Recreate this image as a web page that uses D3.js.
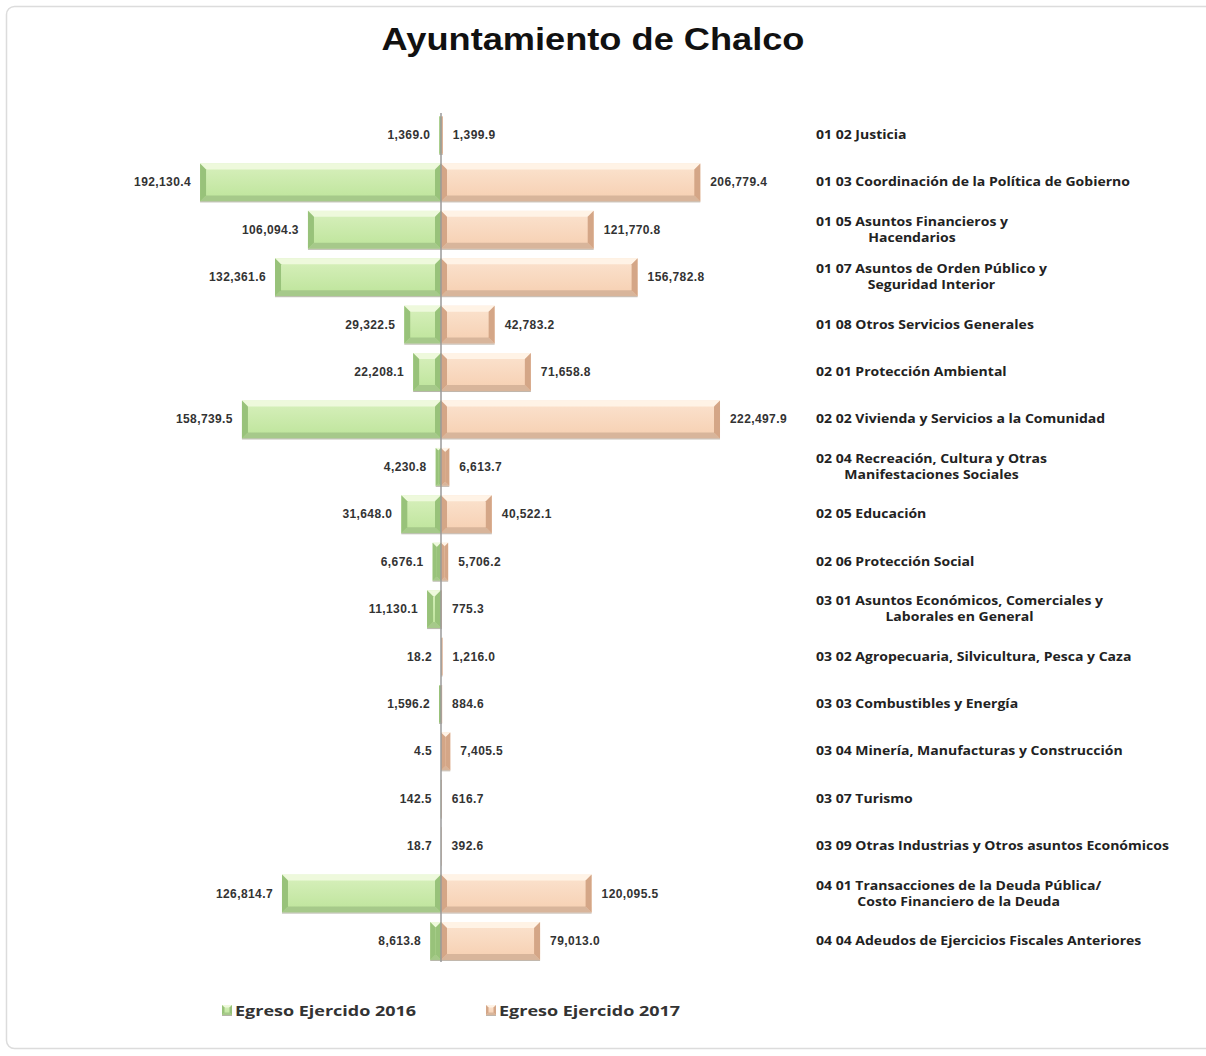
<!DOCTYPE html>
<html><head><meta charset="utf-8">
<script src="https://cdn.jsdelivr.net/npm/d3@7"></script>
<style>body{margin:0;background:#fff}svg{display:block}</style>
</head><body><svg id="c" width="1206" height="1056"></svg>
<script>
const categories = [
 ["01 02 Justicia"],
 ["01 03 Coordinación de la Política de Gobierno"],
 ["01 05 Asuntos Financieros y","Hacendarios"],
 ["01 07 Asuntos de Orden Público y","Seguridad Interior"],
 ["01 08 Otros Servicios Generales"],
 ["02 01 Protección Ambiental"],
 ["02 02 Vivienda y Servicios a la Comunidad"],
 ["02 04 Recreación, Cultura y Otras","Manifestaciones Sociales"],
 ["02 05 Educación"],
 ["02 06 Protección Social"],
 ["03 01 Asuntos Económicos, Comerciales y","Laborales en General"],
 ["03 02 Agropecuaria, Silvicultura, Pesca y Caza"],
 ["03 03 Combustibles y Energía"],
 ["03 04 Minería, Manufacturas y Construcción"],
 ["03 07 Turismo"],
 ["03 09 Otras Industrias y Otros asuntos Económicos"],
 ["04 01 Transacciones de la Deuda Pública/","Costo Financiero de la Deuda"],
 ["04 04 Adeudos de Ejercicios Fiscales Anteriores"]
];
const egreso2016 = [1369.0,192130.4,106094.3,132361.6,29322.5,22208.1,158739.5,4230.8,31648.0,6676.1,11130.1,18.2,1596.2,4.5,142.5,18.7,126814.7,8613.8];
const egreso2017 = [1399.9,206779.4,121770.8,156782.8,42783.2,71658.8,222497.9,6613.7,40522.1,5706.2,775.3,1216.0,884.6,7405.5,616.7,392.6,120095.5,79013.0];
const seriesNames = ["Egreso Ejercido 2016","Egreso Ejercido 2017"];
const title = "Ayuntamiento de Chalco";

const svg = d3.select("#c");
const x0 = 441;
const x = d3.scaleLinear().domain([0,250000]).range([0,313.5]);
const ids = categories.map((c,i)=>i);
const y = d3.scaleBand().domain(ids).range([111.3,964.7]).paddingInner(0.2).paddingOuter(0.1);
const fmt = d3.format(",.1f");
const SX = 1.22;

// frame
svg.append("rect").attr("x",6.5).attr("y",6.5).attr("width",1215).attr("height",1042)
  .attr("rx",8).attr("fill","#fff").attr("stroke","#dcdcdc").attr("stroke-width",1.5);

// title
svg.append("text").attr("x",593).attr("y",50).attr("text-anchor","middle")
  .attr("font-family","Liberation Sans, Arial, sans-serif").attr("font-weight","bold")
  .attr("font-size",31).attr("fill","#111")
  .attr("textLength",423).attr("lengthAdjust","spacingAndGlyphs").text(title);

const pal = {
  g:{face1:"#d8f0bd",face2:"#bde49a",top:"#eef9dc",bot:"#a6c98a",side:"#98c27a",line:"#b5b5a8"},
  p:{face1:"#fbe3cf",face2:"#f6cfb1",top:"#fff3e6",bot:"#d8b59b",side:"#d4a687",line:"#c0b5aa"}
};
const defs = svg.append("defs");
["g","p"].forEach(k=>{
  const lg = defs.append("linearGradient").attr("id","grad"+k).attr("x1",0).attr("y1",0).attr("x2",0).attr("y2",1);
  lg.append("stop").attr("offset","0").attr("stop-color",pal[k].face1);
  lg.append("stop").attr("offset","1").attr("stop-color",pal[k].face2);
});

function bevel(g, bx, by, w, h, k){
  if (w <= 0) return;
  const c = pal[k];
  const b = Math.min(6, w/2, h/4);
  const r = bx+w, btm = by+h;
  g.append("rect").attr("x",bx).attr("y",by).attr("width",w).attr("height",h).attr("fill","url(#grad"+k+")");
  g.append("polygon").attr("points",[[bx,by],[r,by],[r-b,by+b],[bx+b,by+b]].join(" ")).attr("fill",c.top);
  g.append("polygon").attr("points",[[bx,btm],[r,btm],[r-b,btm-b],[bx+b,btm-b]].join(" ")).attr("fill",c.bot);
  g.append("polygon").attr("points",[[bx,by],[bx+b,by+b],[bx+b,btm-b],[bx,btm]].join(" ")).attr("fill",c.side);
  g.append("polygon").attr("points",[[r,by],[r-b,by+b],[r-b,btm-b],[r,btm]].join(" ")).attr("fill",c.side);
  g.append("line").attr("x1",bx).attr("x2",r).attr("y1",btm+0.5).attr("y2",btm+0.5).attr("stroke",c.line).attr("stroke-width",1);
}

const bars = svg.append("g");
ids.forEach(i=>{
  const w1 = x(egreso2016[i]), w2 = x(egreso2017[i]);
  bevel(bars, x0-w1, y(i), w1, y.bandwidth(), "g");
  bevel(bars, x0, y(i), w2, y.bandwidth(), "p");
});

// axis line
svg.append("line").attr("x1",x0).attr("x2",x0).attr("y1",113).attr("y2",962)
  .attr("stroke","#9a9a9a").attr("stroke-width",1.5);

// value labels
const vl = svg.append("g").attr("font-family","Liberation Sans, Arial, sans-serif")
  .attr("font-weight","bold").attr("font-size",12).attr("fill","#333");
ids.forEach(i=>{
  const cy = y(i)+y.bandwidth()/2+4;
  vl.append("text").attr("x",x0-x(egreso2016[i])-9).attr("y",cy).attr("text-anchor","end")
    .attr("letter-spacing",0.4).text(fmt(egreso2016[i]));
  vl.append("text").attr("x",x0+x(egreso2017[i])+10).attr("y",cy).attr("text-anchor","start")
    .attr("letter-spacing",0.4).text(fmt(egreso2017[i]));
});

// category labels
const cl = svg.append("g").attr("font-family","Open Sans, sans-serif")
  .attr("font-weight","bold").attr("font-size",11.5).attr("fill","#222");
ids.forEach(i=>{
  const lines = categories[i];
  const cy = y(i)+y.bandwidth()/2;
  if (lines.length===1){
    cl.append("g").attr("transform",`translate(816,${cy+4}) scale(${SX},1)`)
      .append("text").text(lines[0]);
  } else {
    const g1 = cl.append("g").attr("transform",`translate(816,${cy-4}) scale(${SX},1)`);
    const t1 = g1.append("text").text(lines[0]);
    const w = t1.node().getComputedTextLength();
    cl.append("g").attr("transform",`translate(816,${cy+12}) scale(${SX},1)`)
      .append("text").attr("x",w/2).attr("text-anchor","middle").text(lines[1]);
  }
});

// legend
const lgd = svg.append("g");
[[222,"g"],[486,"p"]].forEach((d,j)=>{
  bevel(lgd, d[0], 1005, 10, 10, d[1]);
  lgd.append("g").attr("transform",`translate(${d[0]+13},1016) scale(1.2,1)`)
    .append("text")
    .attr("font-family","Open Sans, sans-serif").attr("font-weight","bold")
    .attr("font-size",15).attr("fill","#333").text(seriesNames[j]);
});
</script></body></html>
